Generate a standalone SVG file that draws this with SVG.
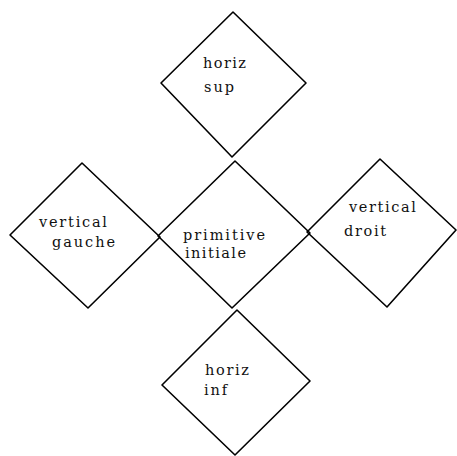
<svg xmlns="http://www.w3.org/2000/svg" width="457" height="456" viewBox="0 0 457 456">
  <style>
    .shape { fill: none; stroke: #000; stroke-width: 1.6; stroke-linejoin: round; }
    .label { font-family: "DejaVu Serif", "Liberation Serif", serif; font-size: 14.5px; fill: #111; }
  </style>
  <rect width="457" height="456" fill="#fff"/>

  <g id="horiz-sup">
    <polygon class="shape" points="233,12 306,83 232,157 161,83"/>
    <text class="label" x="203" y="68" textLength="43" lengthAdjust="spacing">horiz</text>
    <text class="label" x="204" y="92" textLength="30" lengthAdjust="spacing">sup</text>
  </g>

  <g id="vertical-gauche">
    <polygon class="shape" points="82,163 160,237 88,308 10,235"/>
    <text class="label" x="39" y="227" textLength="68" lengthAdjust="spacing">vertical</text>
    <text class="label" x="52" y="247" textLength="63" lengthAdjust="spacing">gauche</text>
  </g>

  <g id="primitive-initiale">
    <polygon class="shape" points="235,161 310,233 232,308 158,236"/>
    <text class="label" x="183" y="240" textLength="82" lengthAdjust="spacing">primitive</text>
    <text class="label" x="185" y="258" textLength="61" lengthAdjust="spacing">initiale</text>
  </g>

  <g id="vertical-droit">
    <polygon class="shape" points="380,159 456,230 387,307 307,232"/>
    <text class="label" x="349" y="212" textLength="67" lengthAdjust="spacing">vertical</text>
    <text class="label" x="344" y="236" textLength="42" lengthAdjust="spacing">droit</text>
  </g>

  <g id="horiz-inf">
    <polygon class="shape" points="237,310 310,381 235,455 162,385"/>
    <text class="label" x="205" y="375" textLength="44" lengthAdjust="spacing">horiz</text>
    <text class="label" x="204" y="395" textLength="23" lengthAdjust="spacing">inf</text>
  </g>

  <g id="connectors"></g>
</svg>
